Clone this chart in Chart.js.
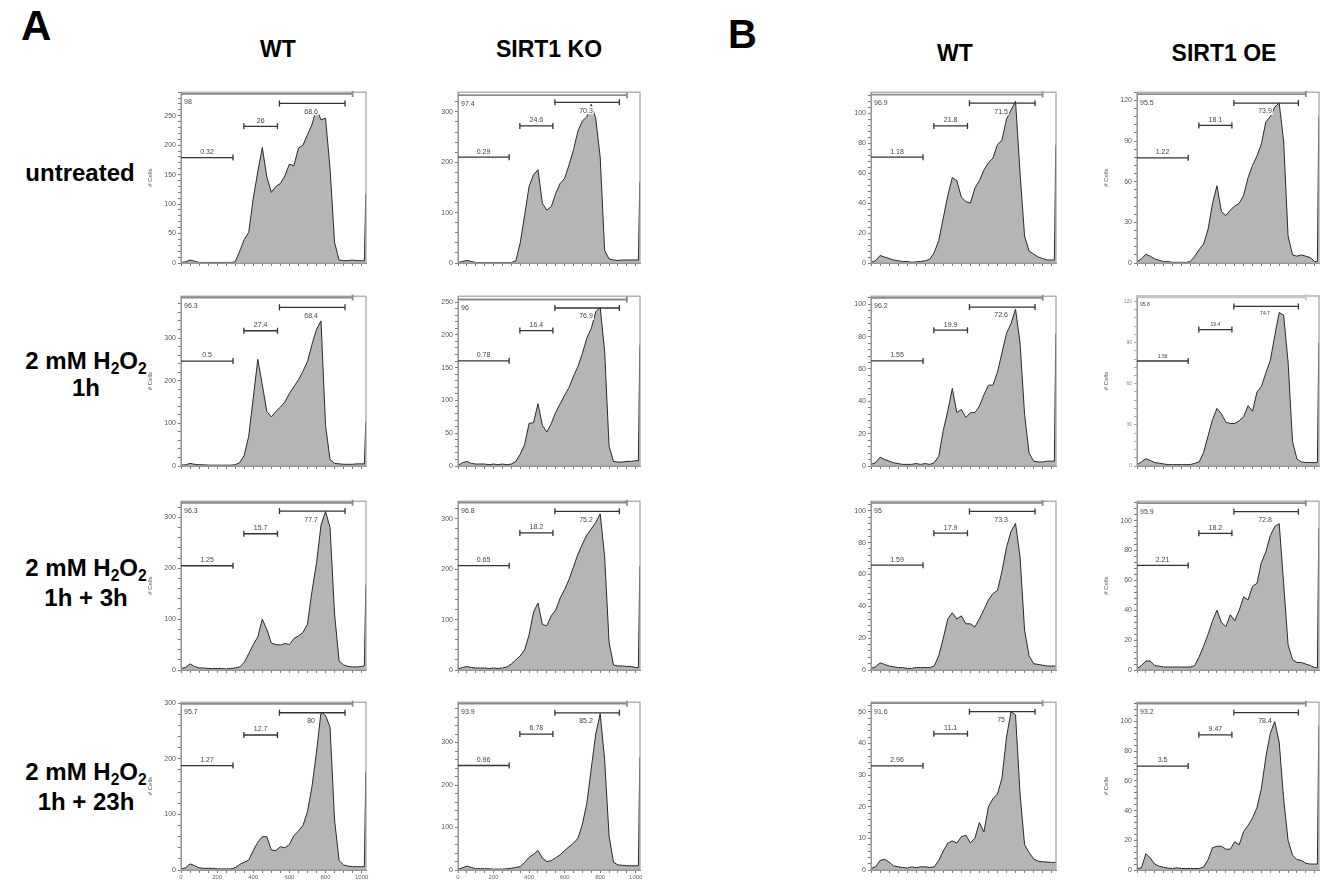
<!DOCTYPE html>
<html>
<head>
<meta charset="utf-8">
<script src="https://cdn.jsdelivr.net/npm/chart.js@4.4.1/dist/chart.umd.min.js"></script>
<style>
body { margin: 0; background: #fff; width: 1320px; height: 882px; overflow: hidden; position: relative;
       font-family: "Liberation Sans", Arial, sans-serif; }
.lbl { position: absolute; font-weight: bold; color: #000; white-space: nowrap; }
.c { transform: translateX(-50%); text-align: center; }
canvas { position: absolute; }
sub { font-size: 65%; vertical-align: -0.3em; line-height: 0; }
</style>
</head>
<body>
<div class="lbl" style="left:21px;top:2px;font-size:42px">A</div>
<div class="lbl" style="left:728px;top:12px;font-size:40px">B</div>

<div class="lbl c" style="left:278px;top:36px;font-size:23px">WT</div>
<div class="lbl c" style="left:549px;top:36px;font-size:23px">SIRT1 KO</div>
<div class="lbl c" style="left:955px;top:40px;font-size:23px">WT</div>
<div class="lbl c" style="left:1224px;top:40px;font-size:23px">SIRT1 OE</div>

<div class="lbl c" style="left:80px;top:159px;font-size:24px">untreated</div>
<div class="lbl c" style="left:86px;top:347px;font-size:24px;line-height:27px">2 mM H<sub>2</sub>O<sub>2</sub><br>1h</div>
<div class="lbl c" style="left:86px;top:553px;font-size:24px;line-height:30px">2 mM H<sub>2</sub>O<sub>2</sub><br>1h + 3h</div>
<div class="lbl c" style="left:86px;top:757px;font-size:24px;line-height:30px">2 mM H<sub>2</sub>O<sub>2</sub><br>1h + 23h</div>

<script>
// fluorescence channel of each histogram bin (0..1023)
const channels = [0, 25, 50, 75, 100, 125, 150, 175, 200, 225,
                  250, 275, 300, 325, 350, 375, 400, 425, 450, 475,
                  500, 525, 550, 575, 600, 625, 650, 675, 700, 725,
                  750, 775, 800, 825, 850, 875, 900, 925, 950, 975,
                  1000, 1015, 1023];

// cell counts per bin, panel A (WT / SIRT1 KO) and panel B (WT / SIRT1 OE)
const A_WT_untreated = [1,2,5,3,1,1,1,1,1,1, 1,1,2,20,40,52,110,155,196,146, 120,130,135,148,168,165,195,200,218,235, 262,243,246,160,35,5,4,4,5,4, 4,4,118];
const A_KO_untreated = [1,3,5,3,1,1,1,1,1,1, 1,1,1,4,40,95,152,175,185,118, 105,112,138,158,168,195,225,262,282,290, 315,287,210,25,8,6,5,6,6,6, 6,6,162];
const B_WT_untreated = [0.5,1.5,5,4,3,2,1.5,1,1,0.5, 0.8,1,1.5,2.5,7,15,30,45,57,55, 44,41,40,50,55,62,67,70,79,82, 96,102,108,60,18,8,6,4,3,2, 2,2,79];
const B_OE_untreated = [1,3,6.5,5,3,2,1,1,0.5,0.5, 0.5,0.5,1,5,10,14,25,44,57,38, 35,39,42,44,50,63,72,79,88,104, 108,115,118,90,20,6,5,6,5,4, 1,1,108];

const A_WT_1h = [2,3,6,4,3,3,2,2,2,2, 2,2,3,8,25,70,160,250,190,128, 115,128,138,150,170,186,202,222,245,285, 320,340,95,15,6,5,4,4,4,5, 5,5,104];
const A_KO_1h = [1,5,7,4,3,3,3,2,3,2, 3,2,3,7,18,33,65,66,95,62, 52,65,82,95,108,120,137,152,172,195, 210,235,242,175,30,7,6,6,7,7, 8,8,185];
const B_WT_1h = [1,2,5.5,4,3,2,1.5,1,1,1, 1.5,1,1.5,1,2,6,22,34,48,33, 35,30,33,33,37,44,50,50,58,70, 82,88,97,76,32,8,3,2.5,2.5,3, 3,3,82];
const B_OE_1h = [1,3,5.3,4,2.5,2,1.5,1,1,1, 1,1,1,2,3,10,22,34,42,38, 32,31,31,33,36,44,40,54,58,68, 77,95,112,110,76,18,5,3,2.5,2.5, 2.5,2.5,90];

const A_WT_1h3h = [3,5,12,7,4,4,3,3,3,3, 2,3,4,6,15,32,50,65,100,80, 53,50,49,52,50,62,67,74,90,155, 210,285,312,280,110,18,10,7,6,6, 7,8,168];
const A_KO_1h3h = [2,5,7,5,4,4,4,3,4,3, 4,6,12,20,28,40,70,115,133,90, 88,108,119,143,160,180,205,230,250,268, 280,293,310,225,55,10,8,8,7,7, 5,5,206];
const B_WT_1h3h = [1,2,4.5,3.5,2.5,2,1.5,1.5,1,1, 1.5,1.5,1.5,1.5,2.5,9,20,32,36,32, 34,29,29,27,32,38,44,48,50,62, 77,87,92,71,25,9,4,3.5,3,2.5, 2.5,2.5,2.5];
const B_OE_1h3h = [1,3,6,6,3,2.5,2,2,2,2, 2,2,2,3,9,16,24,33,40,32, 29,37,33,40,49,47,56,58,72,79, 90,96,98,58,17,7,5,5,4,3, 1.6,1.6,95];

const A_WT_1h23h = [2,4,11,8,4,3,3,3,2,2, 2,2,4,10,14,18,35,50,60,60, 36,35,42,40,46,62,70,80,105,150, 212,284,278,257,90,17,9,7,6,6, 6,6,176];
const A_KO_1h23h = [2,5,9,6,3,3,3,3,2,2, 2,3,4,6,8,18,30,37,46,28, 20,22,29,36,46,55,63,75,108,157, 240,320,368,260,80,18,12,11,10,10, 10,10,266];
const B_WT_1h23h = [0.5,1,3,3.4,2.5,1.3,1,0.8,0.6,1, 0.7,1,1,0.8,1,3,6,8.5,9.2,8.5, 10.5,11,8.6,10,15,12,20,22.5,24,29, 42,50,49,24,8,5.5,3.5,2.8,2.6,2.5, 2.4,2.4,2.4];
const B_OE_1h23h = [1,1.5,11,8,4,2.5,1.8,1.2,1,1.5, 1,1,1,1,1,2,7,15,16,16, 14,14,19,17,26,30,35,42,55,76, 92,100,86,48,20,10,7,6.5,4.5,4, 4,4,97];

const seriesList = [A_WT_untreated, A_KO_untreated, B_WT_untreated, B_OE_untreated,
                    A_WT_1h, A_KO_1h, B_WT_1h, B_OE_1h,
                    A_WT_1h3h, A_KO_1h3h, B_WT_1h3h, B_OE_1h3h,
                    A_WT_1h23h, A_KO_1h23h, B_WT_1h23h, B_OE_1h23h];

// y axis top and labelled tick step of each panel
const yMaxes  = [290, 339, 114, 126,  398, 259, 105, 124,  332, 335, 106, 113,  302, 395, 53, 113];
const yMajors = [50, 100, 20, 30,     100, 50, 20, 30,     100, 100, 20, 20,     100, 100, 10, 20];

// gate channel ranges
const gateTotal = [0, 950];
const gateSub = [0, 288];
const gateG1 = [348, 534];
const gateG2 = [545, 908];

// gate heights (counts): sub-G1, G1, G2/M, total
const gateLevels = [
  [179, 232, 271, 287], [210, 272, 319, 333], [70.6, 91.5, 106.7, 112.4], [77.6, 101.5, 118, 124.6],
  [246, 317, 372, 395], [160.5, 206.5, 241, 254], [65, 84, 98.3, 104], [76.6, 99.5, 116.4, 123],
  [205, 268, 312.5, 329], [207, 272, 315, 332], [65.8, 85.9, 99.6, 104.9], [70, 91.5, 106, 111.7],
  [188, 243, 283, 299], [246, 320, 370, 391.5], [32.9, 43, 50, 52.7], [70, 91, 106, 112]
];
// gate percentages: total, sub-G1, G1, G2/M
const gatePcts = [
  ['98', '0.32', '26', '68.6'], ['97.4', '0.29', '24.6', '70.3'], ['96.9', '1.18', '21.8', '71.5'], ['95.5', '1.22', '18.1', '73.9'],
  ['96.3', '0.5', '27.4', '68.4'], ['96', '0.78', '16.4', '76.9'], ['96.2', '1.55', '19.9', '72.6'], ['95.8', '1.58', '19.4', '74.7'],
  ['96.3', '1.25', '15.7', '77.7'], ['96.8', '0.65', '18.2', '75.2'], ['95', '1.59', '17.9', '73.3'], ['95.9', '2.21', '18.2', '72.8'],
  ['95.7', '1.27', '12.7', '80'], ['93.9', '0.96', '6.78', '85.2'], ['91.6', '2.96', '11.1', '75'], ['93.2', '3.5', '9.47', '78.4']
];

const xTickLabels = [0, 200, 400, 600, 800, 1000];

// page layout
const colLeft = [181, 458, 871, 1137];
const colW = [185, 182, 185, 182];
const rowTop = [92, 296, 501, 702];
const rowZero = [263, 466, 670, 870];

const FONT = '"Liberation Sans", Arial, sans-serif';

const gatePlugin = {
  id: 'gates',
  afterDatasetsDraw(chart, args, o) {
    const { ctx, chartArea: a, scales: { x, y } } = chart;
    ctx.save();
    ctx.strokeStyle = '#a0a0a0';
    ctx.lineWidth = 1.2;
    ctx.strokeRect(a.left, a.top, a.width, a.height);

    const fs = o.small ? 5 : 7;
    ctx.font = fs + 'px ' + FONT;
    const lv = o.levels, pc = o.pcts;

    function gate(range, level, color, width) {
      const x0 = x.getPixelForValue(range[0]), x1 = x.getPixelForValue(range[1]);
      const yy = y.getPixelForValue(level);
      ctx.strokeStyle = color;
      ctx.lineWidth = width;
      ctx.beginPath();
      ctx.moveTo(x0, yy); ctx.lineTo(x1, yy);
      if (range[0] > 0) { ctx.moveTo(x0, yy - 3); ctx.lineTo(x0, yy + 3); }
      ctx.moveTo(x1, yy - 3); ctx.lineTo(x1, yy + 3);
      ctx.stroke();
      return yy;
    }

    ctx.fillStyle = '#444';
    // total
    let yy = gate(gateTotal, lv[3], o.small ? '#c4c4c4' : '#8a8a8a', 1.8);
    ctx.textAlign = 'left'; ctx.textBaseline = 'top';
    ctx.fillText(pc[0], a.left + 3, yy + 5);
    // sub-G1
    yy = gate(gateSub, lv[0], '#333', 1.3);
    ctx.textAlign = 'center'; ctx.textBaseline = 'bottom';
    ctx.fillText(pc[1], x.getPixelForValue((gateSub[0] + gateSub[1]) / 2), yy - 2);
    // G1
    yy = gate(gateG1, lv[1], '#333', 1.3);
    ctx.fillText(pc[2], x.getPixelForValue((gateG1[0] + gateG1[1]) / 2), yy - 2);
    // G2/M
    yy = gate(gateG2, lv[2], '#333', 1.3);
    const tx = x.getPixelForValue(720);
    const tw = ctx.measureText(pc[3]).width;
    ctx.fillStyle = '#fff';
    ctx.fillRect(tx - tw / 2 - 1, yy + 4, tw + 2, fs + 1);
    ctx.fillStyle = '#444';
    ctx.textBaseline = 'top';
    ctx.fillText(pc[3], tx, yy + 5);
    ctx.restore();
  }
};

function makePanel(i) {
  const r = Math.floor(i / 4), c = i % 4;
  const AXW = 34, PADT = 6, PADR = 12, AXH = 14;
  const w = colW[c], h = rowZero[r] - rowTop[r];
  const cv = document.createElement('canvas');
  cv.width = w + AXW + PADR;
  cv.height = h + PADT + AXH;
  cv.style.left = (colLeft[c] - AXW) + 'px';
  cv.style.top = (rowTop[r] - PADT) + 'px';
  document.body.appendChild(cv);

  const major = yMajors[i];
  const small = (i === 7);
  const withTitle = (c === 0 || c === 3);
  const xLabels = (r === 3 && c < 2);
  const pts = channels.map((ch, k) => ({ x: ch, y: seriesList[i][k] }));

  new Chart(cv, {
    type: 'line',
    data: {
      datasets: [{
        data: pts,
        borderColor: '#2a2a2a',
        borderWidth: 1,
        backgroundColor: '#b5b5b5',
        fill: 'origin',
        pointRadius: 0,
        tension: 0
      }]
    },
    options: {
      responsive: false,
      animation: false,
      layout: { padding: { left: 0, top: PADT, right: PADR, bottom: 0 } },
      plugins: {
        legend: { display: false },
        tooltip: { enabled: false },
        gates: { levels: gateLevels[i], pcts: gatePcts[i], small: small }
      },
      scales: {
        x: {
          type: 'linear', min: 0, max: 1024,
          afterFit: s => { s.height = AXH; },
          grid: { drawOnChartArea: false, color: '#777', tickLength: 3 },
          border: { color: '#888' },
          ticks: {
            stepSize: 50, autoSkip: false, includeBounds: false, maxRotation: 0, padding: 1,
            font: { size: 6, family: FONT }, color: '#666',
            callback: v => (xLabels && xTickLabels.includes(v)) ? v : ''
          }
        },
        y: {
          min: 0, max: yMaxes[i],
          afterFit: s => { s.width = AXW; },
          grid: { drawOnChartArea: false, color: small ? '#aaa' : '#777', tickLength: 3 },
          border: { color: '#888' },
          title: { display: withTitle, text: '# Cells', font: { size: 6, family: FONT }, color: '#555', padding: 0 },
          ticks: {
            stepSize: major / 5, autoSkip: false, includeBounds: false, maxTicksLimit: 200, padding: 2,
            font: { size: small ? 5 : 7, family: FONT }, color: small ? '#888' : '#555',
            callback: v => (Math.abs(v / major - Math.round(v / major)) < 1e-6) ? v : ''
          }
        }
      }
    },
    plugins: [gatePlugin]
  });
}

for (let i = 0; i < 16; i++) makePanel(i);
</script>
</body>
</html>
